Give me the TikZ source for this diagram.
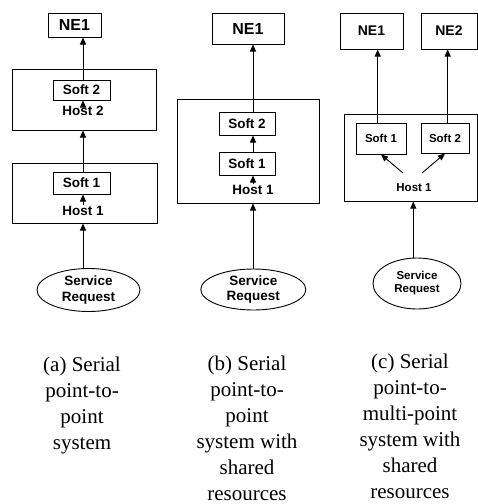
\documentclass[tikz,border=0pt]{standalone}
\usepackage{fontspec}
\setmainfont{Liberation Serif}
\setsansfont{Liberation Sans}
\usetikzlibrary{arrows.meta,shapes.geometric}
\tikzset{
  box/.style={draw, line width=1pt, inner sep=0pt,
    font=\sffamily\bfseries\fontsize{13.5}{15}\selectfont},
  bigtext/.style={font=\sffamily\bfseries\fontsize{16}{18}\selectfont},
  midtext/.style={font=\sffamily\bfseries\fontsize{14}{16}\selectfont},
  smalltext/.style={font=\sffamily\bfseries\fontsize{11.5}{13}\selectfont},
  hostlabel/.style={inner sep=1pt, font=\sffamily\bfseries\fontsize{13.5}{15}\selectfont},
  req/.style={draw, ellipse, line width=0.9pt, inner sep=0pt, align=center,
    font=\sffamily\bfseries\fontsize{13.5}{15.5}\selectfont},
  arr/.style={-{Triangle[length=7pt,width=6pt]}, line width=0.9pt},
  caption/.style={align=center, anchor=north, inner sep=0pt,
    font=\fontsize{21}{26}\selectfont}
}
\begin{document}
\begin{tikzpicture}[x=1pt,y=-1pt]
\useasboundingbox (0,0) rectangle (478,504);

% (a) two hosts in series
\node[box, bigtext, minimum width=53pt, minimum height=24pt] (ne1a) at (74.5,25) {NE1};
\node[box, minimum width=144pt, minimum height=61pt] (host2a) at (84,99.5) {};
\node[box, minimum width=57pt, minimum height=20pt] (soft2a) at (81.5,90) {Soft 2};
\node[hostlabel] (lab2a) at (83,111) {Host 2};
\node[box, minimum width=145pt, minimum height=60pt] (host1a) at (84.5,193) {};
\node[box, minimum width=57pt, minimum height=22pt] (soft1a) at (81.5,183) {Soft 1};
\node[hostlabel] (lab1a) at (83,211) {Host 1};
\node[req, minimum width=103pt, minimum height=43pt] (reqa) at (88.5,290) {Service\\Request};
\coordinate (xa) at (83,0);
\draw[arr] (reqa.north -| xa) -- (host1a.south -| xa);
\draw[arr] (lab1a.north -| xa) -- (soft1a.south -| xa);
\draw[arr] (soft1a.north -| xa) -- (host2a.south -| xa);
\draw[arr] (lab2a.north -| xa) -- (soft2a.south -| xa);
\draw[arr] (soft2a.north -| xa) -- (ne1a.south -| xa);

% (b) one host running both programs
\node[box, bigtext, minimum width=72pt, minimum height=31pt] (ne1b) at (248,28.5) {NE1};
\node[box, minimum width=142pt, minimum height=104pt] (hostb) at (248,151) {};
\node[box, minimum width=56pt, minimum height=23pt] (soft2b) at (247,123.5) {Soft 2};
\node[box, minimum width=56pt, minimum height=23pt] (soft1b) at (247,163.5) {Soft 1};
\node[hostlabel] (lab1b) at (253,190) {Host 1};
\node[req, minimum width=105pt, minimum height=41pt] (reqb) at (253.3,289.5) {Service\\Request};
\coordinate (xb) at (253,0);
\draw[arr] (reqb.north -| xb) -- (hostb.south -| xb);
\draw[arr] (lab1b.north -| xb) -- (soft1b.south -| xb);
\draw[arr] (soft1b.north -| xb) -- (soft2b.south -| xb);
\draw[arr] (soft2b.north -| xb) -- (ne1b.south -| xb);

% (c) one host feeding two network elements
\node[box, midtext, minimum width=63pt, minimum height=36pt] (ne1c) at (371.5,31) {NE1};
\node[box, midtext, minimum width=56pt, minimum height=36pt] (ne2c) at (449,31) {NE2};
\node[box, minimum width=133pt, minimum height=87pt] (hostc) at (410.5,157.5) {};
\node[box, smalltext, minimum width=50pt, minimum height=31pt] (soft1c) at (381,138.5) {Soft 1};
\node[box, smalltext, minimum width=48pt, minimum height=30pt] (soft2c) at (445,138) {Soft 2};
\node[hostlabel, smalltext] (lab1c) at (414,188) {Host 1};
\node[req, smalltext, minimum width=88pt, minimum height=51pt] (reqc) at (417,283.5) {Service\\Request};
\coordinate (xc) at (413.3,0);
\coordinate (xc1) at (377.7,0);
\coordinate (xc2) at (447.7,0);
\coordinate (d1) at (403,173);
\coordinate (d2) at (422,173);
\draw[arr] (reqc.north -| xc) -- (hostc.south -| xc);
\draw[arr] (soft1c.north -| xc1) -- (ne1c.south -| xc1);
\draw[arr] (soft2c.north -| xc2) -- (ne2c.south -| xc2);
\draw[arr] (d1) -- (soft1c.south);
\draw[arr] (d2) -- (soft2c.south);

% captions
\node[caption] (capa) at (82,357) {(a) Serial\\point-to-\\point\\system};
\node[caption] (capb) at (247,356) {(b) Serial\\point-to-\\point\\system with\\shared\\resources};
\node[caption] (capc) at (410,354) {(c) Serial\\point-to-\\multi-point\\system with\\shared\\resources};
\end{tikzpicture}
\end{document}
